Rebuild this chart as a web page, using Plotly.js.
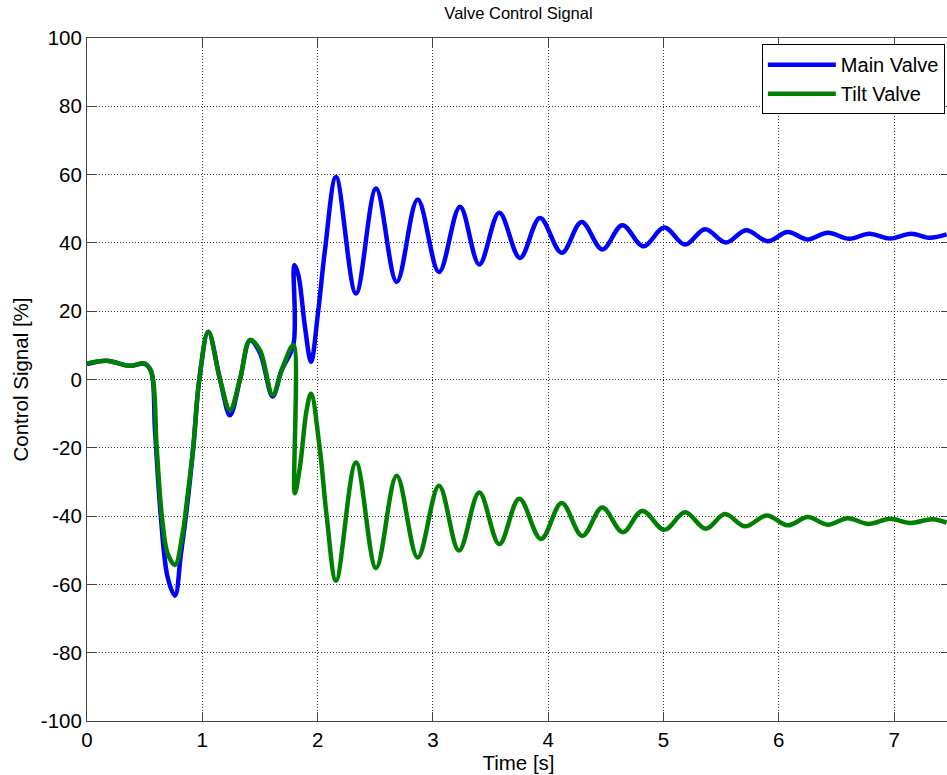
<!DOCTYPE html>
<html>
<head>
<meta charset="utf-8">
<script src="https://cdn.plot.ly/plotly-3.0.1.min.js"></script>
<style>
html,body{margin:0;padding:0;overflow:hidden;background:#fff;}
#chart{width:950px;height:775px;}
</style>
</head>
<body>
<div id="chart"></div>
<script>
// Main Valve (blue)
var mainT = [0, 0.17, 0.37, 0.50, 0.555, 0.59, 0.64, 0.70, 0.763, 0.815, 0.865, 0.922, 0.974, 1.052, 1.154, 1.24, 1.327, 1.414, 1.50, 1.61, 1.689, 1.79, 1.798, 1.833, 1.89, 1.943, 2.006, 2.064, 2.16, 2.333, 2.507, 2.686, 2.868, 3.053, 3.235, 3.402, 3.576, 3.755, 3.929, 4.117, 4.29, 4.469, 4.643, 4.825, 5.007, 5.187, 5.36, 5.542, 5.716, 5.904, 6.077, 6.251, 6.424, 6.611, 6.785, 6.964, 7.147, 7.311, 7.456];
var mainV = [4.5, 5.5, 4.0, 4.6, 2.5, -15, -40, -58, -63.3, -51, -38, -19.7, 0, 14.0, 0, -10.5, 0, 11.4, 7.8, -5.0, 2.8, 10.1, 33.5, 30.6, 15.5, 5.2, 20.3, 37.9, 59.3, 25.2, 55.9, 28.6, 52.7, 31.5, 50.6, 33.7, 48.8, 35.6, 47.3, 37.1, 46.1, 38.1, 45.2, 39.0, 44.5, 39.5, 44.0, 40.1, 43.7, 40.5, 43.2, 41.0, 43.0, 41.2, 42.7, 41.3, 42.7, 41.5, 42.5];

// Tilt Valve (green)
var tiltT = [0, 0.17, 0.37, 0.503, 0.561, 0.604, 0.648, 0.70, 0.763, 0.83, 0.865, 0.922, 0.974, 1.052, 1.154, 1.24, 1.327, 1.414, 1.50, 1.61, 1.689, 1.79, 1.802, 1.847, 1.905, 1.943, 2.02, 2.079, 2.16, 2.333, 2.507, 2.686, 2.868, 3.053, 3.226, 3.402, 3.576, 3.749, 3.938, 4.117, 4.296, 4.469, 4.646, 4.816, 5.007, 5.187, 5.366, 5.533, 5.707, 5.895, 6.077, 6.251, 6.424, 6.598, 6.776, 6.964, 7.138, 7.335, 7.456];
var tiltV = [4.7, 5.5, 4.0, 4.7, 1.8, -19.7, -39.6, -51, -54.3, -45, -36, -19.7, 0, 14.0, 0, -8.9, 0, 11.6, 8.6, -4.5, 2.8, 10.1, -33.3, -25.5, -8.9, -4.2, -20.6, -40.1, -58.9, -24.3, -55.2, -28.2, -52.1, -31.1, -50.1, -33.1, -48.2, -34.9, -46.7, -36.2, -45.8, -37.5, -44.7, -38.5, -44.0, -38.9, -43.7, -39.4, -43.0, -39.8, -42.7, -40.3, -42.5, -40.6, -42.3, -40.8, -42.0, -40.9, -41.9];

var seriesNames = ['Main Valve', 'Tilt Valve'];
var xTicks = [0, 1, 2, 3, 4, 5, 6, 7];
var yTicks = [-100, -80, -60, -40, -20, 0, 20, 40, 60, 80, 100];

var FONT = 'Liberation Sans, Arial, sans-serif';

var traces = [
  {x: mainT, y: mainV, name: seriesNames[0], type: 'scatter', mode: 'lines',
   line: {color: '#0000FF', width: 4.5, shape: 'spline', smoothing: 1}},
  {x: tiltT, y: tiltV, name: seriesNames[1], type: 'scatter', mode: 'lines',
   line: {color: '#008000', width: 4.5, shape: 'spline', smoothing: 1}}
];

var axisCommon = {
  showline: true, linecolor: '#444', linewidth: 1, mirror: 'ticks',
  ticks: 'inside', ticklen: 9, tickcolor: '#444', tickwidth: 1,
  showgrid: true, gridcolor: '#333', gridwidth: 1, griddash: '1px,2px',
  zeroline: false, tickfont: {family: FONT, size: 20.5, color: '#000'}
};

var layout = {
  width: 950, height: 775,
  margin: {l: 87, r: 0, t: 38, b: 54},
  paper_bgcolor: '#fff', plot_bgcolor: '#fff',
  title: {text: 'Valve Control Signal', font: {family: FONT, size: 16.5, color: '#000'},
          x: 0.5, xref: 'paper', y: 0.983, yanchor: 'middle'},
  xaxis: Object.assign({}, axisCommon, {
    range: [0, (950 - 87) / 115.3], tickvals: xTicks, ticktext: xTicks.map(String),
    title: {text: 'Time [s]', font: {family: FONT, size: 20.5, color: '#000'}, standoff: 6}
  }),
  yaxis: Object.assign({}, axisCommon, {
    range: [-100, 100], tickvals: yTicks, ticktext: yTicks.map(String),
    title: {text: 'Control Signal [%]', font: {family: FONT, size: 20.5, color: '#000'}, standoff: 6}
  }),
  showlegend: true,
  legend: {x: 0.782, y: 0.991, xanchor: 'left', yanchor: 'top',
           bgcolor: '#fff', bordercolor: '#000', borderwidth: 1,
           font: {family: FONT, size: 20, color: '#000'}, itemwidth: 68}
};

Plotly.newPlot('chart', traces, layout, {displayModeBar: false, staticPlot: true});
</script>
</body>
</html>
